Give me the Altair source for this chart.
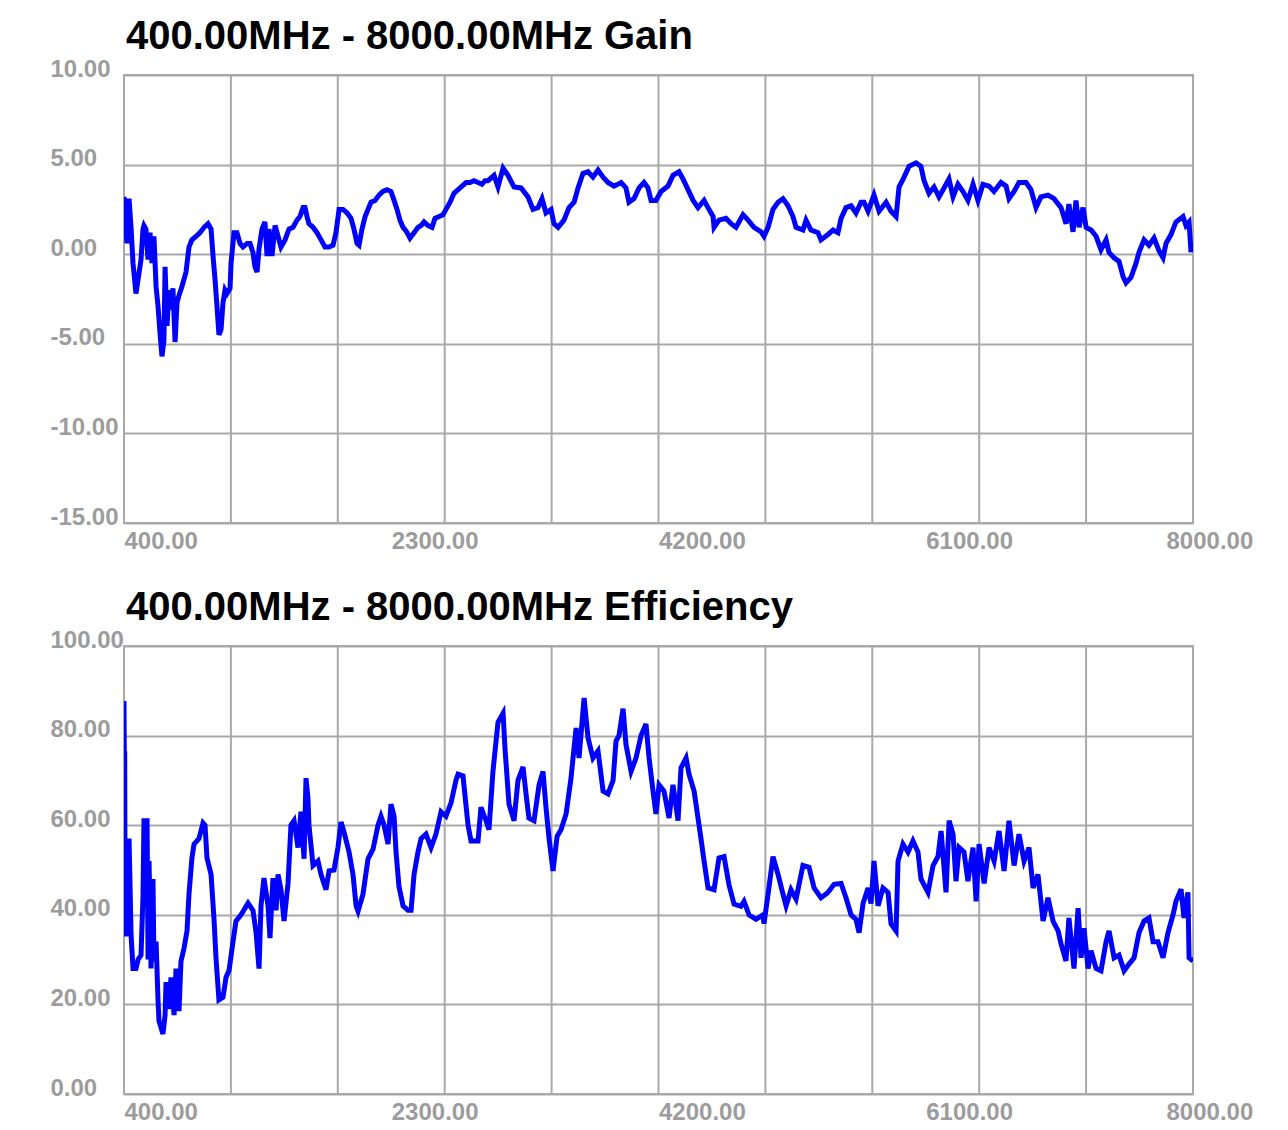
import altair as alt
import pandas as pd

# ---- data ----
gain_freq = [400, 405, 421, 436, 450, 464, 485, 500, 521, 535, 542, 556, 571, 585, 599, 613, 628, 642, 656, 670,
             684, 692, 706, 720, 734, 748, 763, 777, 791, 812, 841, 862, 883, 912, 940, 969, 997, 1019, 1033, 1047,
             1061, 1075, 1090, 1104, 1118, 1132, 1154, 1161, 1182, 1203, 1225, 1246, 1275, 1296, 1317, 1331, 1346,
             1360, 1381, 1402, 1417, 1431, 1452, 1474, 1495, 1516, 1545, 1573, 1602, 1630, 1651, 1673, 1687, 1701,
             1715, 1744, 1772, 1801, 1829, 1858, 1886, 1907, 1929, 1957, 1986, 2014, 2035, 2057, 2071, 2092, 2114,
             2135, 2156, 2185, 2213, 2241, 2270, 2298, 2320, 2341, 2362, 2384, 2405, 2433, 2462, 2490, 2512, 2533,
             2561, 2590, 2611, 2640, 2668, 2689, 2718, 2746, 2775, 2803, 2832, 2860, 2888, 2917, 2945, 2967, 2988,
             3031, 3059, 3095, 3130, 3173, 3223, 3272, 3308, 3344, 3372, 3400, 3436, 3457, 3486, 3528, 3564, 3600,
             3628, 3663, 3699, 3734, 3770, 3806, 3841, 3884, 3934, 3969, 3990, 4026, 4062, 4097, 4125, 4147, 4182,
             4218, 4268, 4303, 4346, 4374, 4410, 4446, 4481, 4524, 4552, 4588, 4595, 4630, 4680, 4716, 4751, 4801,
             4837, 4879, 4929, 4950, 4979, 5014, 5050, 5085, 5121, 5156, 5178, 5227, 5249, 5284, 5334, 5355, 5405,
             5441, 5476, 5498, 5533, 5569, 5604, 5640, 5661, 5690, 5732, 5768, 5818, 5853, 5889, 5910, 5946, 5981,
             6031, 6066, 6088, 6123, 6159, 6194, 6230, 6265, 6294, 6329, 6365, 6400, 6436, 6471, 6507, 6550, 6585,
             6635, 6671, 6692, 6728, 6763, 6813, 6848, 6884, 6919, 6969, 7012, 7062, 7097, 7118, 7147, 7168, 7190,
             7218, 7240, 7275, 7311, 7346, 7382, 7403, 7439, 7474, 7503, 7524, 7559, 7595, 7616, 7652, 7687, 7723,
             7758, 7787, 7808, 7844, 7879, 7929, 7950, 7972, 7986]
gain_db = [3.2, 2.4, 0.6, 3.1, 1.5, -0.5, -2.2, -1.4, -0.3, 1.4, 1.6, 1.4, -0.3, 1.2, -0.5, 1.0, -1.8, -2.9, -4.4, -5.7,
           -4.8, -0.7, -4.0, -2.0, -3.1, -1.9, -4.9, -2.7, -2.3, -1.8, -1.0, 0.4, 0.8, 1.0, 1.2, 1.5, 1.7, 1.4, -0.1, -1.4,
           -2.9, -4.5, -4.2, -2.7, -2.0, -2.2, -1.9, -0.5, 1.2, 1.2, 0.6, 0.4, 0.6, 0.6, 0.1, -0.7, -1.0,
           0.3, 1.4, 1.8, -0.1, 1.4, -0.1, 1.6, 1.0, 0.4, 0.8, 1.4, 1.5, 1.9, 2.1, 2.6, 2.6, 2.1,
           1.7, 1.5, 1.2, 0.8, 0.4, 0.4, 0.5, 1.2, 2.5, 2.5, 2.3, 2.0, 1.4, 0.6, 0.5, 1.4, 2.1,
           2.5, 2.9, 3.0, 3.3, 3.5, 3.6, 3.5, 3.0, 2.5, 1.9, 1.5, 1.3, 0.9, 1.2, 1.5, 1.6, 1.8,
           1.6, 1.5, 2.0, 2.1, 2.2, 2.5, 2.9, 3.4, 3.6, 3.8, 4.0, 4.0, 4.1, 4.0, 3.9, 4.1, 4.1,
           4.4, 3.75, 4.8, 4.4, 3.75, 3.7, 3.2, 2.5, 2.6, 3.1, 2.3, 2.5, 1.7, 1.5, 1.9, 2.6, 2.9,
           3.7, 4.5, 4.6, 4.3, 4.7, 4.3, 4.0, 3.8, 4.0, 3.7, 2.9, 3.1, 3.7, 4.0, 3.7, 3.0, 3.0,
           3.5, 3.8, 4.4, 4.6, 4.2, 3.6, 3.0, 2.6, 3.0, 2.6, 2.1, 1.5, 1.9, 2.0, 1.7, 1.5, 2.2,
           1.9, 1.5, 1.25, 1.0, 1.5, 2.5, 2.9, 3.1, 2.7, 2.1, 1.5, 1.35, 1.9, 1.35, 1.2, 0.8, 1.1,
           1.35, 1.2, 2.0, 2.6, 2.7, 2.3, 2.9, 2.9, 2.4, 3.3, 2.4, 2.9, 2.4, 2.1, 3.75, 4.3, 4.9,
           5.1, 4.9, 4.1, 3.4, 3.75, 3.2, 3.7, 4.2, 3.2, 3.9, 3.5, 3.0, 3.9, 3.0, 3.9, 3.8, 3.5,
           4.0, 3.8, 3.1, 3.5, 4.0, 4.0, 3.6, 2.6, 3.2, 3.3, 3.1, 2.6, 1.7, 2.8, 1.25, 3.0, 1.5,
           2.6, 1.5, 1.35, 1.0, 0.25, 0.8, 0.1, -0.2, -0.4, -1.25, -1.6, -1.3, -0.5, 0.1, 0.8, 0.5, 0.9,
           0.2, -0.2, 0.6, 1.1, 1.8, 2.1, 1.6, 1.8, 0.1]

eff_freq = [400, 402, 405, 408, 421, 436, 450, 464, 485, 500, 521, 535, 542, 564, 571, 578, 592, 606, 613, 628,
            642, 649, 677, 692, 699, 720, 734, 756, 770, 791, 805, 827, 848, 862, 883, 898, 933, 962, 976, 990,
            1019, 1040, 1054, 1075, 1104, 1125, 1147, 1175, 1196, 1232, 1282, 1317, 1339, 1360, 1374, 1395, 1424,
            1438, 1459, 1481, 1495, 1516, 1538, 1566, 1587, 1609, 1637, 1658, 1680, 1694, 1708, 1715, 1744, 1779,
            1801, 1836, 1858, 1893, 1921, 1943, 1964, 2000, 2028, 2050, 2064, 2099, 2135, 2170, 2206, 2227, 2249,
            2277, 2298, 2320, 2334, 2355, 2384, 2419, 2441, 2462, 2490, 2512, 2547, 2583, 2618, 2654, 2689, 2725,
            2760, 2775, 2810, 2846, 2867, 2917, 2938, 2974, 2995, 3023, 3059, 3095, 3109, 3137, 3173, 3201, 3237,
            3258, 3279, 3315, 3351, 3379, 3400, 3422, 3450, 3479, 3507, 3543, 3578, 3614, 3635, 3671, 3699, 3734,
            3770, 3806, 3841, 3877, 3898, 3919, 3948, 3969, 4005, 4040, 4076, 4111, 4133, 4161, 4182, 4204, 4239,
            4275, 4303, 4339, 4360, 4396, 4417, 4453, 4481, 4502, 4524, 4552, 4595, 4630, 4666, 4701, 4737, 4786,
            4808, 4844, 4893, 4943, 4950, 4979, 5014, 5050, 5085, 5107, 5142, 5178, 5227, 5270, 5306, 5355, 5405,
            5448, 5498, 5533, 5569, 5604, 5626, 5654, 5690, 5711, 5732, 5761, 5796, 5832, 5853, 5889, 5903, 5938,
            5974, 6009, 6045, 6066, 6116, 6152, 6187, 6209, 6244, 6266, 6294, 6315, 6337, 6372, 6400, 6436, 6458,
            6479, 6515, 6550, 6586, 6621, 6657, 6692, 6728, 6763, 6799, 6834, 6863, 6898, 6934, 6969, 7005, 7041,
            7062, 7097, 7118, 7154, 7183, 7204, 7225, 7254, 7275, 7311, 7346, 7382, 7403, 7439, 7474, 7510, 7545,
            7581, 7616, 7652, 7687, 7716, 7751, 7787, 7822, 7858, 7879, 7915, 7936, 7964, 7972, 8000]
eff_pct = [87.7, 76, 76, 35.7, 35.7, 57, 35.7, 28, 28, 30, 31, 44, 61, 61, 30, 52, 28, 48, 29.6, 34,
           20.8, 16.3, 13.4, 17.6, 25, 19, 26, 17.6, 28, 18.5, 29.6, 32.6, 36.4, 44.6, 52.7, 55.8, 57, 60.5, 60, 52.7,
           49, 39, 30.4, 21, 21.6, 26, 27.6, 34, 38.6, 40, 42.6, 41, 36, 28, 42, 48.2, 42,
           34.8, 48.2, 41, 49, 45.6, 38.6, 47, 60, 61, 55, 63, 52.5, 70.5, 66, 60, 51, 52,
           49, 45.6, 49.8, 50, 55, 60.7, 58.5, 54, 49, 42, 40.8, 44.6, 52.5, 54.6, 60, 62, 60,
           55.8, 64.7, 62, 54, 46.3, 42, 41, 41, 49, 54, 57, 58, 55, 58, 63, 62, 65,
           70, 71.4, 71, 60, 56.5, 56.5, 64, 61, 59, 72, 83, 85, 77, 64.7, 61, 70, 73,
           67, 61.6, 61, 69, 72, 64, 57, 49.8, 57.5, 59, 62.5, 70.5, 81.7, 75, 88.4, 79.5, 75,
           76.6, 67.6, 67, 70, 78.8, 80, 86, 78, 72, 75, 80, 82.6, 75, 67.6, 62.5, 69, 67.6,
           61.6, 69, 61, 72.8, 75, 71.4, 67.6, 61.6, 57, 52, 46, 45.6, 52.7, 53, 46.7, 42.4, 41.9,
           43, 40, 39, 40, 38, 44.6, 53, 49, 44.6, 42, 45.6, 43.5, 51, 50.6, 46, 43.8, 45,
           46.8, 47, 43.8, 40, 39, 36, 42.5, 46, 42.5, 52, 42, 46, 45, 38, 36.4, 52, 55.8,
           54, 56.5, 54, 48, 45, 51, 53, 58.7, 45, 61, 58, 47.5, 55, 54, 47.5, 55, 43,
           55.8, 47, 55, 52, 58.7, 49.8, 61, 51, 58, 52, 55, 46, 49, 38.6, 43.8, 38.6, 36.4,
           33.5, 29.7, 39.3, 28, 41.5, 30.4, 37, 28, 32, 28, 27.5, 34, 36.4, 30.4, 31, 27.5, 29,
           30.4, 36, 38.6, 39.3, 34, 34, 30.4, 36, 40, 43, 45.7, 39.3, 45, 30.4, 29.7]

x_grid = [400, 1160, 1920, 2680, 3440, 4200, 4960, 5720, 6480, 7240, 8000]
x_labels = [400, 2300, 4200, 6100, 8000]
gain_ticks = [-15, -10, -5, 0, 5, 10]
eff_ticks = [0, 20, 40, 60, 80, 100]

GRID = "#a9a9a9"
LABEL = "#9c9c9c"
FONT = "Liberation Sans"
LABEL_EXPR = "(datum.value < 0 ? '-' : '') + format(abs(datum.value), '.2f')"


def x_axis():
    return alt.Axis(
        values=x_labels, labelExpr=LABEL_EXPR, grid=False, ticks=False, domain=False,
        labelAlign="left", labelBaseline="top", labelPadding=6, labelFlush=False,
        labelOverlap=False, labelFont=FONT, labelFontSize=24, labelFontWeight="bold",
        labelColor=LABEL,
        labelOffset=alt.condition("datum.value == 8000", alt.value(-27), alt.value(0)),
    )


def y_axis(yticks):
    return alt.Axis(
        values=yticks, labelExpr=LABEL_EXPR, grid=True, gridColor=GRID, gridWidth=2,
        ticks=False, tickSize=0, domain=False,
        labelAlign="left", labelBaseline="alphabetic", labelPadding=74, labelFlush=False,
        labelOverlap=False, labelFont=FONT, labelFontSize=24, labelFontWeight="bold",
        labelColor=LABEL, labelOffset=1,
    )


def panel(freqs, vals, title, ydomain, yticks):
    df = pd.DataFrame({"f": freqs, "v": vals, "i": list(range(len(freqs)))})
    xs = alt.Scale(domain=[400, 8000], nice=False, zero=False)
    ys = alt.Scale(domain=ydomain, nice=False, zero=False)
    grid = alt.Chart(pd.DataFrame({"f": x_grid})).mark_rule(
        color=GRID, strokeWidth=2
    ).encode(x=alt.X("f:Q", scale=xs, title=None, axis=x_axis()))
    line = alt.Chart(df).mark_line(color="#0000ff", strokeWidth=5, clip=True).encode(
        x=alt.X("f:Q", scale=xs, title=None, axis=x_axis()),
        y=alt.Y("v:Q", scale=ys, title=None, axis=y_axis(yticks)),
        order=alt.Order("i:Q"),
    )
    return alt.layer(grid, line).properties(
        width=1069, height=448,
        title=alt.TitleParams(title, anchor="start", frame="group", font=FONT, fontSize=40,
                              fontWeight="bold", color="#000000", offset=0, dx=2),
    )


top = panel(gain_freq, gain_db, "400.00MHz - 8000.00MHz Gain", [-15, 10], gain_ticks)
bottom = panel(eff_freq, eff_pct, "400.00MHz - 8000.00MHz Efficiency", [0, 100], eff_ticks)

chart = alt.vconcat(top, bottom, spacing=33).properties(
    padding={"left": 41, "top": 8, "right": 0, "bottom": 0},
    background="white",
).configure_view(stroke=GRID, strokeWidth=2)

chart.save("out.html", embed_options={"renderer": "svg", "actions": False})
